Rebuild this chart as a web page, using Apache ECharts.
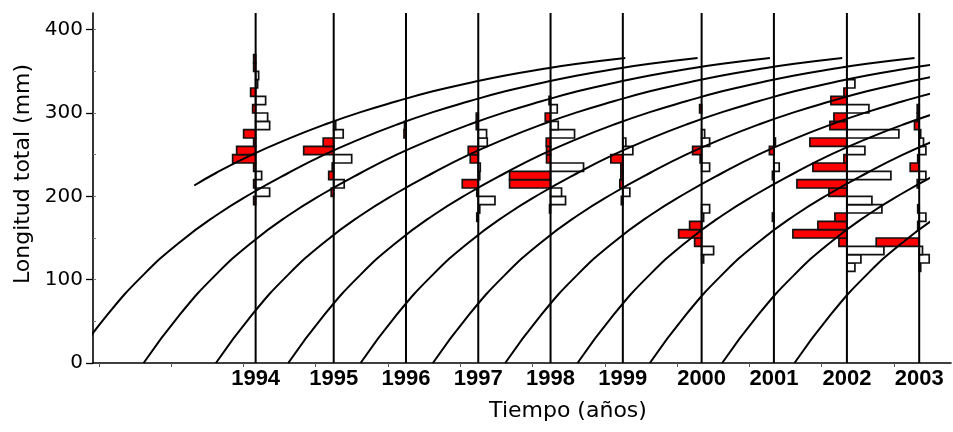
<!DOCTYPE html>
<html>
<head>
<meta charset="utf-8">
<script src="https://cdn.jsdelivr.net/npm/echarts@6/dist/echarts.min.js"></script>
<style>
  html, body { margin: 0; padding: 0; background: #ffffff; }
  #chart { width: 953px; height: 432px; }
</style>
</head>
<body>
<div id="chart"></div>
<script>
// Sampling dates (decimal years) of the length-frequency samples
const sampleDates = [1994.17, 1995.25, 1996.25, 1997.25, 1998.25, 1999.25, 2000.34, 2001.34, 2002.35, 2003.35];
const yearLabels = ['1994', '1995', '1996', '1997', '1998', '1999', '2000', '2001', '2002', '2003'];
const yearTicks = [1992, 1993, 1994, 1995, 1996, 1997, 1998, 1999, 2000, 2001, 2002, 2003];
const lengthTicks = [0, 100, 200, 300, 400];
const lengthMinorTicks = [50, 100, 150, 200, 250, 300, 350, 400];

// Lowest 10-mm length class (mm) of each sample
const lowestClass = [190, 200, 270, 170, 180, 190, 120, 170, 110, 110];

// Restructured scores per 10-mm class, lowest class first
// (positive = peak, red to the left; negative = trough, white to the right)
const scores1994 = [0.2, -1.4, 0.2, -0.6, 0.2, 2.3, 1.9, 0.2, 1.2, -1.4, -1.2, 0.3, -1.0, 0.5, -0.2, -0.3, 0.2, 0.2];
const scores1995 = [0.25, -1.05, 0.5, 0.15, -1.8, 3.0, 1.05, -0.95, -0.2];
const scores1996 = [0.2, 0.15];
const scores1997 = [0.15, -0.15, -1.67, 0.15, 1.6, -0.15, -0.2, 0.8, 1.0, -0.9, -0.83, 0.2, 0.2];
const scores1998 = [0.1, -1.5, -1.1, 4.1, 4.1, -3.3, 0.4, 0.4, 0.43, -2.4, -0.77, 0.53, -0.67, 0.15];
const scores1999 = [0.15, -0.7, 0.3, 0.2, 0.2, 1.2, -1.0, -0.3];
const scores2000 = [-0.2, -1.2, 0.7, 2.3, 1.2, -0.2, -0.8, 0, 0, 0, 0, -0.8, 0.15, 0.9, -0.8, -0.3, 0, 0, 0.2];
const scores2001 = [0.15, 0, 0, 0, 0, 0.15, -0.53, 0, 0.45, -0.15];
const scores2002 = [-0.8, -1.4, -3.7, 0.8, 5.4, 2.9, 1.2, -3.5, -2.5, 1.8, 5.0, -4.4, 3.4, 0.3, -1.8, 3.7, -5.2, 1.7, 1.3, -2.2, 1.6, 0.3, -0.8];
const scores2003 = [-0.15, -1.0, -0.33, 4.3, 0, 0.15, -0.67, 0.15, 0, 0, 0.2, -0.67, 0.9, 0.15, -0.67, -0.43, -0.15, 0.47, 0.2, 0.2];
const sampleScores = [scores1994, scores1995, scores1996, scores1997, scores1998, scores1999, scores2000, scores2001, scores2002, scores2003];

// Growth curve: total length (mm) at age (years)
const curveAges    = [0, 0.5, 1, 1.5, 2, 2.5, 2.7, 3, 3.5, 4, 4.5, 5, 5.5, 6, 6.5, 7, 7.5, 8, 8.66];
const curveLengths = [0, 58, 106, 145, 177, 204, 213, 228, 250, 269, 286, 301, 314, 326, 336, 345, 352.5, 359, 366];

// Cohort birth dates (decimal years) and the age each curve is drawn from
const cohortStarts = [1990.62, 1991.62, 1992.62, 1993.62, 1994.62, 1995.62, 1996.62, 1997.62, 1998.62, 1999.62, 2000.62, 2001.62];
const cohortFirstAge = [2.7, 0, 0, 0, 0, 0, 0, 0, 0, 0, 0, 0];

const CLASS_WIDTH = 10;     // mm per length class
const BAR_SCALE = 0.1383;   // years of axis per score unit
const X_MIN = 1991.92;
const X_MAX = 2003.79;
const X_CURVE_MAX = 2003.48;
const Y_MAX = 420;

// Bars: one item per class
const barData = [];
sampleScores.forEach((arr, i) => {
  arr.forEach((s, k) => {
    if (s !== 0) barData.push([sampleDates[i], lowestClass[i] + k * CLASS_WIDTH, s]);
  });
});

// Growth curves: one line per cohort (the 2.7-year knot is only used to start the oldest curve)
const curveSeries = cohortStarts.map((t0, c) => ({
  type: 'line',
  xAxisIndex: 1,
  yAxisIndex: 2,
  symbol: 'none',
  smooth: 0.5,
  clip: true,
  silent: true,
  z: 5,
  lineStyle: { color: '#000', width: 2 },
  data: curveAges
    .map((a, k) => [a, curveLengths[k]])
    .filter(p => p[0] >= cohortFirstAge[c] && (p[0] !== 2.7 || cohortFirstAge[c] === 2.7))
    .map(p => [t0 + p[0], p[1]])
}));

const chart = echarts.init(document.getElementById('chart'), null, { renderer: 'canvas' });

chart.setOption({
  animation: false,
  backgroundColor: '#ffffff',
  grid: [
    { left: 93, right: 2, top: 13, bottom: 69, outerBoundsMode: 'none' },
    { left: 93, right: 24, top: 13, bottom: 69, outerBoundsMode: 'none' }
  ],
  xAxis: [
    {
      type: 'value', gridIndex: 0, min: X_MIN, max: X_MAX,
      axisLine: { show: true, lineStyle: { color: '#000', width: 1.6 } },
      axisTick: { show: true, customValues: yearTicks, length: 4, lineStyle: { color: '#555', width: 1 } },
      axisLabel: {
        show: true, customValues: sampleDates, margin: 5,
        color: '#000', fontFamily: 'Liberation Sans', fontWeight: 'bold', fontSize: 22,
        formatter: (v) => {
          const i = sampleDates.findIndex(d => Math.abs(d - v) < 1e-6);
          return i >= 0 ? yearLabels[i] : '';
        }
      },
      splitLine: { show: false }
    },
    {
      type: 'value', gridIndex: 1, min: X_MIN, max: X_CURVE_MAX, show: false
    }
  ],
  yAxis: [
    {
      type: 'value', gridIndex: 0, min: 0, max: Y_MAX, position: 'left',
      axisLine: { show: true, lineStyle: { color: '#000', width: 1.6 } },
      axisTick: { show: true, customValues: lengthTicks, length: 7, lineStyle: { color: '#000', width: 1.3 } },
      axisLabel: { show: true, customValues: lengthTicks, margin: 10, color: '#000', fontFamily: 'DejaVu Sans', fontSize: 20 },
      splitLine: { show: false }
    },
    {
      type: 'value', gridIndex: 0, min: 0, max: Y_MAX, position: 'left', offset: 0,
      axisLine: { show: false },
      axisTick: { show: true, inside: true, customValues: lengthMinorTicks, length: 3, lineStyle: { color: '#777', width: 1 } },
      axisLabel: { show: false },
      splitLine: { show: false }
    },
    {
      type: 'value', gridIndex: 1, min: 0, max: Y_MAX, show: false
    }
  ],
  graphic: [
    {
      type: 'text', x: 23, y: 174, rotation: Math.PI / 2,
      style: { text: 'Longitud total (mm)', fontFamily: 'DejaVu Sans', fontSize: 22, fill: '#000', align: 'center', verticalAlign: 'middle' }
    },
    {
      type: 'text', x: 568, y: 411,
      style: { text: 'Tiempo (años)', fontFamily: 'DejaVu Sans', fontSize: 22, fill: '#000', align: 'center', verticalAlign: 'middle' }
    }
  ],
  series: [
    {
      type: 'custom',
      name: 'frecuencias',
      xAxisIndex: 0, yAxisIndex: 0,
      encode: { x: 0, y: 1 },
      clip: false,
      silent: true,
      z: 2,
      data: barData,
      renderItem: (params, api) => {
        const d = api.value(0), lo = api.value(1), s = api.value(2);
        const w = Math.abs(s) * BAR_SCALE;
        const x0 = s > 0 ? d - w : d;
        const x1 = s > 0 ? d : d + w;
        const p0 = api.coord([x0, lo + CLASS_WIDTH]);
        const p1 = api.coord([x1, lo]);
        return {
          type: 'rect',
          shape: { x: p0[0], y: p0[1], width: p1[0] - p0[0], height: p1[1] - p0[1] },
          style: { fill: s > 0 ? '#ff0000' : '#ffffff', stroke: '#111', lineWidth: 1.7 }
        };
      }
    },
    {
      type: 'custom',
      name: 'muestreos',
      xAxisIndex: 0, yAxisIndex: 0,
      encode: { x: 0, y: 1 },
      silent: true,
      z: 3,
      data: sampleDates.map(d => [d, 0]),
      renderItem: (params, api) => {
        const d = api.value(0);
        const a = api.coord([d, 0]);
        const b = api.coord([d, Y_MAX]);
        return {
          type: 'line',
          shape: { x1: a[0], y1: a[1], x2: b[0], y2: b[1] },
          style: { stroke: '#000', lineWidth: 2 }
        };
      }
    }
  ].concat(curveSeries)
});
</script>
</body>
</html>
